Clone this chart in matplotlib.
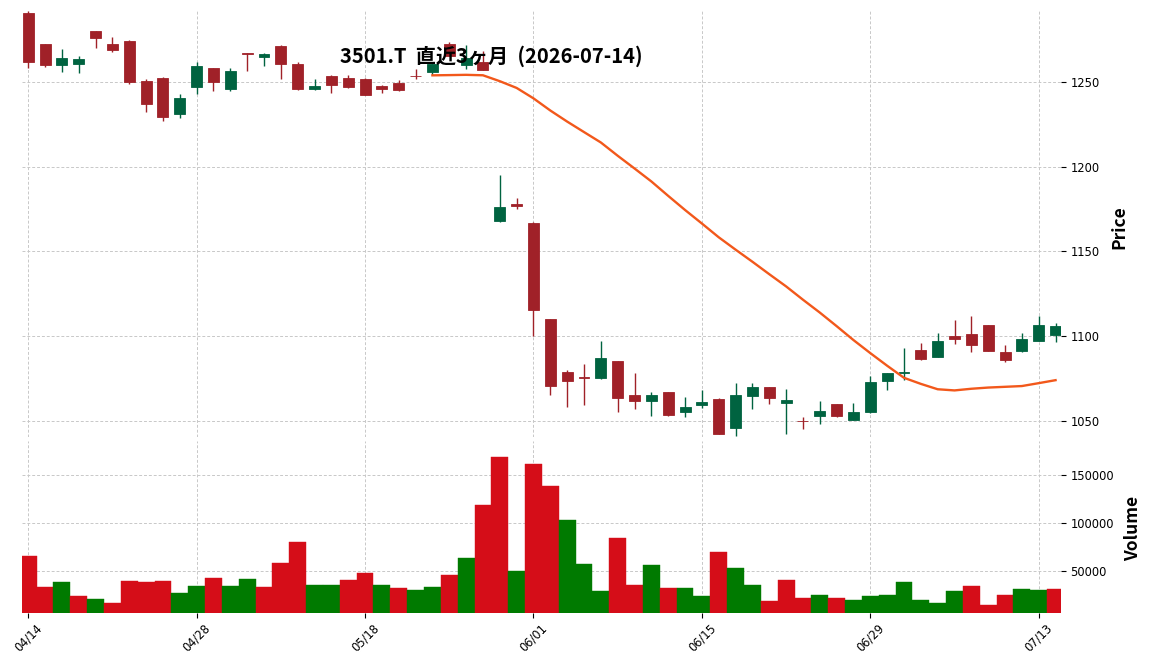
import matplotlib
matplotlib.use("Agg")
import matplotlib.pyplot as plt
import numpy as np
import pandas as pd
from matplotlib.ticker import FuncFormatter

# ---------------- data ----------------
dates = [
    "04/14", "04/15", "04/16", "04/17", "04/20", "04/21", "04/22", "04/23", "04/24", "04/27",
    "04/28", "04/30", "05/01", "05/07", "05/08", "05/11", "05/12", "05/13", "05/14", "05/15",
    "05/18", "05/19", "05/20", "05/21", "05/22", "05/25", "05/26", "05/27", "05/28", "05/29",
    "06/01", "06/02", "06/03", "06/04", "06/05", "06/08", "06/09", "06/10", "06/11", "06/12",
    "06/15", "06/16", "06/17", "06/18", "06/19", "06/22", "06/23", "06/24", "06/25", "06/26",
    "06/29", "06/30", "07/01", "07/02", "07/03", "07/06", "07/07", "07/08", "07/09", "07/10",
    "07/13", "07/14",
]
opens = [
    1290.5, 1272.4, 1260.0, 1260.6, 1280.0, 1272.4, 1274.3, 1250.6, 1252.5, 1231.2,
    1247.2, 1258.2, 1246.0, 1267.0, 1264.9, 1271.4, 1260.6, 1245.5, 1253.5, 1252.4,
    1251.8, 1247.6, 1249.6, 1253.5, 1256.0, 1272.4, 1260.0, 1261.6, 1167.8, 1178.2,
    1167.0, 1110.0, 1079.0, 1075.6, 1075.0, 1085.3, 1065.3, 1062.0, 1067.0, 1055.5,
    1059.6, 1063.0, 1045.5, 1064.7, 1070.0, 1060.8, 1050.2, 1052.8, 1060.0, 1050.8,
    1055.0, 1073.7, 1078.0, 1091.8, 1087.8, 1100.0, 1101.4, 1106.3, 1090.8, 1091.0,
    1097.3, 1100.4,
]
highs = [
    1291.5, 1272.6, 1269.4, 1265.0, 1280.2, 1276.3, 1274.5, 1251.8, 1253.0, 1242.6,
    1262.0, 1258.4, 1258.4, 1267.2, 1267.0, 1272.0, 1262.0, 1251.6, 1254.3, 1254.3,
    1252.0, 1248.4, 1250.8, 1257.5, 1262.0, 1273.5, 1272.0, 1268.0, 1195.3, 1181.6,
    1167.2, 1110.2, 1080.0, 1083.7, 1097.0, 1085.5, 1078.0, 1067.0, 1067.2, 1064.0,
    1068.0, 1063.2, 1072.5, 1072.5, 1070.2, 1068.6, 1052.0, 1062.0, 1060.2, 1060.8,
    1076.6, 1078.5, 1092.8, 1095.7, 1101.6, 1109.6, 1111.6, 1106.5, 1095.0, 1101.8,
    1112.0, 1107.5,
]
lows = [
    1258.0, 1259.0, 1256.0, 1255.0, 1270.0, 1267.8, 1249.0, 1232.5, 1227.0, 1228.4,
    1242.8, 1244.5, 1244.5, 1256.5, 1259.4, 1251.8, 1245.2, 1245.3, 1243.3, 1246.5,
    1242.0, 1243.7, 1244.5, 1251.8, 1254.0, 1265.0, 1257.5, 1257.0, 1167.6, 1175.0,
    1100.0, 1065.0, 1058.0, 1059.6, 1074.8, 1055.0, 1057.0, 1053.0, 1053.0, 1052.2,
    1057.7, 1042.0, 1041.2, 1057.0, 1060.0, 1042.4, 1045.0, 1048.2, 1052.5, 1050.6,
    1054.8, 1068.4, 1074.0, 1085.7, 1087.6, 1095.3, 1090.4, 1091.0, 1084.5, 1090.4,
    1097.0, 1096.6,
]
closes = [
    1262.0, 1260.0, 1263.8, 1263.2, 1276.0, 1269.0, 1250.0, 1237.0, 1229.4, 1240.6,
    1259.4, 1250.0, 1256.5, 1266.4, 1266.2, 1260.6, 1245.5, 1247.6, 1248.4, 1247.2,
    1242.4, 1245.8, 1245.3, 1253.2, 1260.4, 1265.5, 1264.0, 1257.2, 1176.0, 1176.5,
    1115.5, 1070.6, 1073.7, 1075.0, 1087.0, 1063.7, 1062.0, 1065.3, 1053.5, 1058.2,
    1061.2, 1042.4, 1065.3, 1070.0, 1063.7, 1062.2, 1049.8, 1055.7, 1052.8, 1055.1,
    1072.9, 1078.0, 1079.0, 1086.5, 1097.2, 1098.4, 1095.0, 1091.4, 1086.0, 1098.2,
    1106.5, 1106.0,
]
volumes = [
    65000, 32500, 37750, 23060, 19900, 15700, 38800, 37750, 38800, 26200,
    33550, 41940, 33550, 40900, 32500, 57680, 79700, 34600, 34600, 39850,
    47190, 34600, 31450, 29350, 32500, 45100, 62900, 118500, 168900, 49300,
    161500, 138500, 102800, 56600, 28300, 83900, 34600, 55600, 31500, 31500,
    23100, 69200, 52500, 34600, 17800, 39900, 21000, 24100, 21000, 18900,
    23100, 24100, 37750, 18900, 15700, 28300, 33600, 13600, 24100, 30400,
    29400, 30400,
]
# volume bar colour as seen in the picture: 1 = up (green), 0 = down (red)
vol_up = [
    0, 0, 1, 0, 1, 0, 0, 0, 0, 1,
    1, 0, 1, 1, 0, 0, 0, 1, 1, 0,
    0, 1, 0, 1, 1, 0, 1, 0, 0, 1,
    0, 0, 1, 1, 1, 0, 0, 1, 0, 1,
    1, 0, 1, 1, 0, 0, 0, 1, 0, 1,
    1, 1, 1, 1, 1, 1, 0, 0, 0, 1,
    1, 0,
]
tick_positions = [0, 10, 20, 30, 40, 50, 60]
price_ticks = [1050, 1100, 1150, 1200, 1250]
volume_ticks = [50000, 100000, 150000]
mav_window = 25
title = "3501.T  直近3ヶ月  (2026-07-14)"

# ---------------- style ----------------
UP_C, DOWN_C = "#006340", "#A02128"
VUP_C, VDOWN_C = "#007a00", "#d50d18"
MA_C = "#f2581b"
GRID_C = "#c8c8c8"

o = np.array(opens); h = np.array(highs); l = np.array(lows); c = np.array(closes)
v = np.array(volumes)
x = np.arange(len(dates))
is_up = c >= o
ccolors = np.where(is_up, UP_C, DOWN_C)
vcolors = np.where(np.array(vol_up) == 1, VUP_C, VDOWN_C)

fig = plt.figure(figsize=(11.52, 6.70), dpi=100)
ax = fig.add_axes([0.0191, 0.3478, 0.9023, 0.6358])
axv = fig.add_axes([0.0191, 0.0855, 0.9023, 0.2563], sharex=ax)

for a in (ax, axv):
    a.set_axisbelow(True)
    for s in a.spines.values():
        s.set_visible(False)
    a.grid(True, color=GRID_C, linestyle="--", linewidth=0.7, dashes=(3, 2))
    a.yaxis.tick_right()
    a.tick_params(axis="y", labelsize=8.3, length=3.5, width=0.8, colors="black", pad=3)

# candles
ax.vlines(x, l, h, colors=ccolors, linewidth=1.0, zorder=2)
body_h = np.abs(c - o)
ax.bar(x, body_h, bottom=np.minimum(o, c), width=0.65, color=ccolors,
       edgecolor=ccolors, linewidth=0.6, zorder=3)

# moving average
ma = pd.Series(c).rolling(mav_window).mean()
ax.plot(x, ma, color=MA_C, linewidth=1.7, zorder=4)

ax.set_ylim(1040.5, 1291.8)
ax.set_yticks(price_ticks)
ax.set_xlim(-0.37, 61.35)
ax.tick_params(axis="x", which="both", length=0, labelbottom=False)

# volume
axv.bar(x, v, width=1.0, color=vcolors, edgecolor=vcolors, linewidth=0.3, zorder=3)
axv.set_ylim(5800, 185700)
axv.set_yticks(volume_ticks)
axv.yaxis.set_major_formatter(FuncFormatter(lambda val, pos: f"{int(val)}"))
axv.set_xticks(tick_positions)
axv.set_xticklabels([dates[i] for i in tick_positions], rotation=45, ha="center")
axv.tick_params(axis="x", labelsize=8.3, length=3.5, width=0.8, pad=3)

# labels
lab_font = dict(family=["Noto Sans CJK JP", "DejaVu Sans"], fontsize=12.5, fontweight="bold")
fig.text(1119 / 1152, 1 - 227 / 670, "Price", rotation=90, ha="center", va="center", **lab_font)
fig.text(1133 / 1152, 1 - 528 / 670, "Volume", rotation=90, ha="center", va="center", **lab_font)

fig.text(491 / 1152, 1 - 56 / 670, title, ha="center", va="center",
         family=["Noto Sans CJK JP", "DejaVu Sans"], fontsize=14.5, fontweight="bold", zorder=10)

fig.savefig("out.png", dpi=100)
